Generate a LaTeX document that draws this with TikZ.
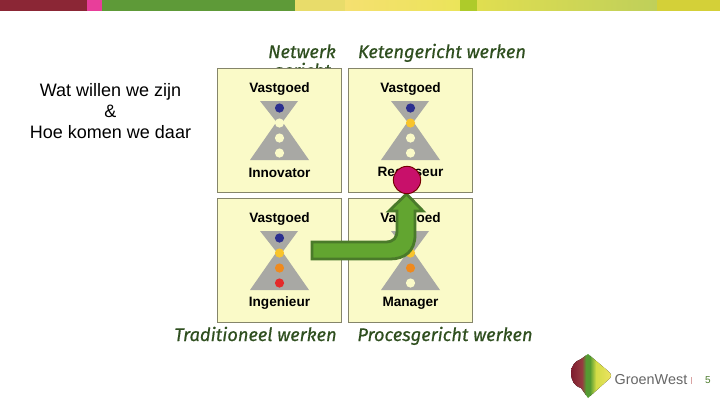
\documentclass[tikz,border=0pt]{standalone}
\usepackage{fontspec}
\setmainfont{Liberation Sans}
\newfontfamily\titlefont[FakeBold=0.6]{Fira Sans}
\definecolor{panelfill}{HTML}{FAFAC8}
\definecolor{panelline}{HTML}{85856A}
\definecolor{hourglass}{HTML}{A8A8A4}
\definecolor{dotblue}{HTML}{2B2F8F}
\definecolor{dotyellow}{HTML}{F8C42B}
\definecolor{dotorange}{HTML}{EF8A1E}
\definecolor{dotred}{HTML}{E42A2A}
\definecolor{titlegreen}{HTML}{2F4F1F}
\definecolor{arrowfill}{HTML}{62A530}
\definecolor{arrowline}{HTML}{4A7A2A}
\tikzset{
  paneltext/.style={font=\fontsize{10.2pt}{12pt}\selectfont\bfseries, inner sep=0pt},
  titletext/.style={font=\titlefont\itshape\fontsize{13.7pt}{15pt}\selectfont, text=titlegreen, inner sep=0pt, anchor=base},
  panelbox/.style={draw=panelline, fill=panelfill, line width=0.6pt, minimum size=93pt, inner sep=0pt}
}
\begin{document}
\begin{tikzpicture}[x=0.75pt,y=-0.75pt]
  \useasboundingbox (0,0) rectangle (720,405);
  % band along the top
  \fill[white] (0,0) rectangle (720,405);
  \begin{scope}
    \clip (0,0) rectangle (720,10.5);
    \fill[fill={rgb,255:red,139;green,38;blue,53}] (0,0) rectangle (87,12);
    \fill[fill={rgb,255:red,232;green,62;blue,154}] (87,0) rectangle (102,12);
    \fill[fill={rgb,255:red,94;green,154;blue,56}] (102,0) rectangle (295,12);
    \fill[fill={rgb,255:red,232;green,220;blue,106}] (295,0) rectangle (345,12);
    \fill[left color={rgb,255:red,245;green,224;blue,112}, right color={rgb,255:red,235;green,228;blue,90}] (345,0) rectangle (460,12);
    \fill[fill={rgb,255:red,174;green,203;blue,42}] (460,0) rectangle (477,12);
    \fill[left color={rgb,255:red,224;green,222;blue,80}, right color={rgb,255:red,191;green,207;blue,90}] (477,0) rectangle (657,12);
    \fill[fill={rgb,255:red,212;green,208;blue,56}] (657,0) rectangle (720,12);
  \end{scope}
  % titles
  \node[titletext] (netwerk) at (302,58) {Netwerk};
  \node[titletext] (gericht) at (302,77) {gericht};
  \node[titletext] (keten) at (442,58) {Ketengericht werken};
  \node[titletext] (traditioneel) at (255.5,341) {Traditioneel werken};
  \node[titletext] (proces) at (445,341) {Procesgericht werken};
  \node[align=center, font=\fontsize{13.5pt}{15.8pt}\selectfont, inner sep=0pt] (vraag) at (110.5,111) {Wat willen we zijn\\\&\\Hoe komen we daar};
  % the four panels
  \foreach \px/\py/\lbl/\ca/\cb/\cc/\cd in {
    217/68/Innovator/dotblue/panelfill/panelfill/panelfill,
    348/68/Regisseur/dotblue/dotyellow/panelfill/panelfill,
    217/198/Ingenieur/dotblue/dotyellow/dotorange/dotred,
    348/198/Manager/dotblue/dotyellow/dotorange/panelfill} {
    \begin{scope}[shift={(\px,\py)}]
      \node[panelbox, anchor=north west] (panel\lbl) at (0,0) {};
      \fill[hourglass] (43,33) -- (81,33) -- (65.5,54) -- (92,92) -- (33,92) -- (59.5,54) -- cycle;
      \fill[\ca] (62.5,40) circle (4.6);
      \fill[\cb] (62.5,55) circle (4.6);
      \fill[\cc] (62.5,70) circle (4.6);
      \fill[\cd] (62.5,85) circle (4.6);
      \node[paneltext] (top\lbl) at (62.5,21.5) {Vastgoed};
      \node[paneltext] (name\lbl) at (62.5,105) {\lbl};
    \end{scope}
  }
  % bent arrow
  \draw[line width=2.1pt, draw=arrowline, fill=arrowfill, line join=miter]
    (312,242) -- (385,242) .. controls (394,242) and (397,238) .. (397,230) -- (397,211) -- (389,211) -- (406.5,194) -- (423,211) -- (415,211) -- (415,235)
    .. controls (415,251) and (405,259) .. (390,259) -- (312,259) -- cycle;
  \node[circle, draw=black!55!red, fill={rgb,255:red,200;green,16;blue,106}, line width=0.7pt, minimum size=20.5pt, inner sep=0pt] (punt) at (407,180) {};
  % logo
  \begin{scope}
    \clip (588,354) -- (608,371) .. controls (612,374) and (612,377) .. (608,380) -- (588,398) -- (581,388) .. controls (574,386) and (571,380) .. (571,373) .. controls (571,366) and (575,361) .. (581,359) -- cycle;
    \fill[left color={rgb,255:red,125;green,25;blue,45}, right color={rgb,255:red,150;green,60;blue,65}] (570,350) rectangle (582,400);
    \fill[left color={rgb,255:red,150;green,60;blue,65}, right color={rgb,255:red,85;green,155;blue,50}] (582,350) rectangle (586,400);
    \fill[fill={rgb,255:red,85;green,155;blue,50}] (586,350) rectangle (590,400);
    \fill[left color={rgb,255:red,85;green,155;blue,50}, right color={rgb,255:red,210;green,220;blue,70}] (590,350) rectangle (596,400);
    \fill[left color={rgb,255:red,210;green,220;blue,70}, right color={rgb,255:red,240;green,228;blue,100}] (596,350) rectangle (613,400);
  \end{scope}
  \node[font=\fontsize{10.8pt}{12pt}\selectfont, text=black!60, inner sep=0pt] (groenwest) at (651,380) {GroenWest};
  \draw[draw=black!15!pink, line width=0.5pt] (691,377) -- (691,384);
  \node[font=\fontsize{7.5pt}{9pt}\selectfont, text=arrowline, inner sep=0pt] (pagina) at (708,380) {5};
\end{tikzpicture}
\end{document}
